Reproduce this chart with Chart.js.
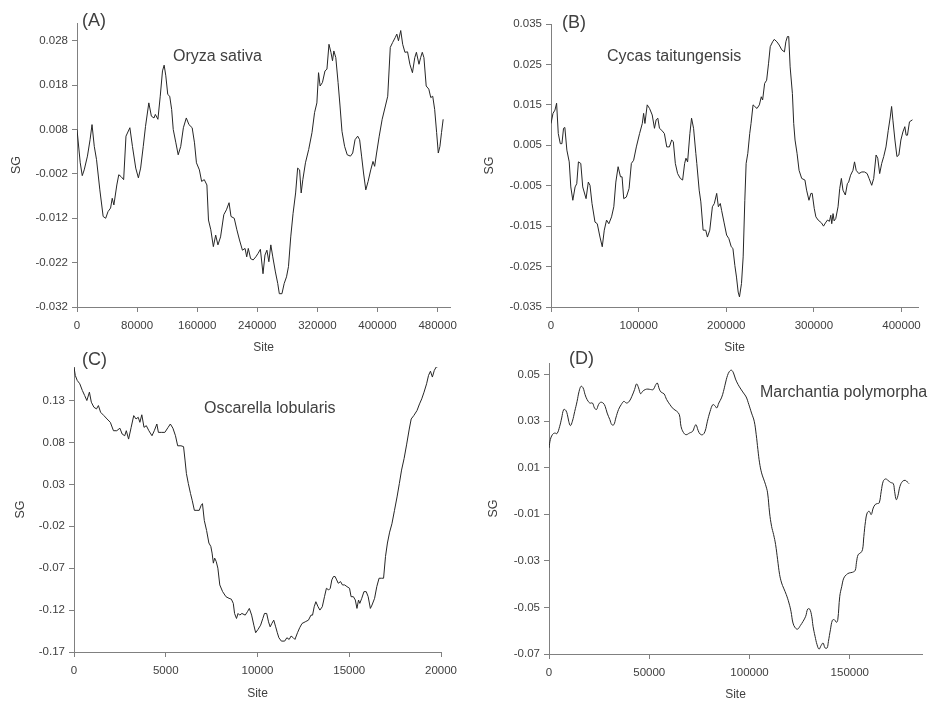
<!DOCTYPE html>
<html>
<head>
<meta charset="utf-8">
<script src="https://cdn.jsdelivr.net/npm/chart.js@4.4.1/dist/chart.umd.min.js"></script>
<style>
  body { margin: 0; background: #fff; width: 928px; height: 702px; position: relative; overflow: hidden; }
  canvas { position: absolute; }
</style>
</head>
<body>
<canvas id="chartA" width="464" height="360" style="left:0;top:0"></canvas>
<canvas id="chartB" width="464" height="360" style="left:464px;top:0"></canvas>
<canvas id="chartC" width="464" height="362" style="left:0;top:340px"></canvas>
<canvas id="chartD" width="464" height="362" style="left:464px;top:340px"></canvas>
<script>
// (A) Oryza sativa
const oryzaSite = [0, 4300, 7000, 9600, 13900, 17400, 20000, 23000, 26000, 30400, 34800, 38200, 41300, 44700, 46900, 49100, 53000, 55600, 58600, 62100, 65200, 70400, 73800, 78200, 81700, 84700, 88200, 91200, 95600, 99000, 102500, 104300, 107700, 110800, 113800, 116000, 118200, 120800, 123400, 126000, 128100, 131600, 134700, 138100, 141600, 145500, 149000, 153300, 156400, 159000, 162900, 165900, 169400, 172900, 175000, 178100, 181500, 184600, 187600, 191100, 195400, 198900, 202400, 205000, 209300, 212800, 216300, 220200, 223700, 225900, 228000, 231100, 234500, 238000, 241100, 244100, 247600, 250200, 252800, 255400, 258000, 260600, 264100, 267200, 269300, 272800, 275800, 278900, 281500, 284500, 287600, 291000, 293700, 296300, 298400, 300600, 304100, 308400, 312800, 316200, 319300, 321500, 323600, 326700, 330100, 332700, 335400, 338000, 340100, 341900, 344500, 347500, 350100, 352700, 356200, 359700, 364000, 367000, 370100, 373600, 376200, 378800, 381400, 384400, 387500, 391000, 394000, 396200, 398800, 402300, 406200, 410500, 413600, 417000, 420100, 423500, 425700, 427900, 430900, 433500, 436500, 440000, 443100, 446500, 449600, 451800, 455200, 457400, 459600, 461800, 464800, 468300, 470900, 473500, 476100, 478700, 480900, 483100, 485200, 487400];
const oryzaSG = [0.008, 0.0005, -0.0024, -0.0011, 0.002, 0.0057, 0.0091, 0.0042, 0.0012, -0.0056, -0.0116, -0.012, -0.0105, -0.0097, -0.0075, -0.009, -0.0045, -0.0022, -0.0026, -0.0033, 0.0065, 0.0084, 0.0042, -0.0007, -0.0029, -0.0007, 0.0042, 0.0087, 0.014, 0.011, 0.0106, 0.0114, 0.0103, 0.0155, 0.0212, 0.0225, 0.0201, 0.0159, 0.0155, 0.0125, 0.008, 0.005, 0.0023, 0.0042, 0.0084, 0.0106, 0.0091, 0.0084, 0.005, 0.0005, -0.0011, -0.0037, -0.0033, -0.0045, -0.0124, -0.0146, -0.0184, -0.0158, -0.018, -0.0162, -0.0112, -0.0101, -0.0085, -0.0116, -0.012, -0.0146, -0.0169, -0.0192, -0.0188, -0.0207, -0.0188, -0.0211, -0.0214, -0.0207, -0.0199, -0.019, -0.0245, -0.0203, -0.0192, -0.0218, -0.018, -0.0207, -0.0241, -0.0267, -0.029, -0.029, -0.0267, -0.0252, -0.0229, -0.0162, -0.0109, -0.0063, -0.0007, -0.0011, -0.0063, -0.0033, 0.0005, 0.0035, 0.0073, 0.0118, 0.014, 0.0208, 0.0178, 0.0186, 0.0212, 0.0216, 0.0272, 0.0254, 0.0235, 0.0257, 0.0242, 0.0186, 0.0133, 0.0076, 0.0042, 0.0023, 0.002, 0.0027, 0.0057, 0.0065, 0.0057, 0.002, -0.0018, -0.0056, -0.0037, -0.0011, 0.0008, -0.0003, 0.0027, 0.0065, 0.0103, 0.0133, 0.0155, 0.0265, 0.0276, 0.0287, 0.0295, 0.028, 0.0303, 0.0272, 0.0254, 0.0255, 0.0227, 0.0208, 0.0242, 0.0254, 0.0227, 0.0242, 0.0254, 0.0242, 0.0178, 0.0171, 0.0152, 0.0155, 0.0125, 0.0073, 0.0027, 0.0042, 0.0073, 0.0103];
const oryzaXTicks = [0, 80000, 160000, 240000, 320000, 400000, 480000];
const oryzaXLabels = ['0', '80000', '160000', '240000', '320000', '400000', '480000'];
const oryzaYTicks = [-0.032, -0.022, -0.012, -0.002, 0.008, 0.018, 0.028];
const oryzaYLabels = ['-0.032', '-0.022', '-0.012', '-0.002', '0.008', '0.018', '0.028'];

// (B) Cycas taitungensis
const cycasSite = [0, 2300, 4500, 6400, 8300, 10600, 12500, 14300, 15800, 18100, 20800, 22600, 24900, 27500, 29400, 31300, 34000, 36200, 40000, 42600, 44500, 46800, 50200, 52800, 55900, 58500, 60800, 63400, 66000, 69100, 71700, 74000, 76600, 79300, 81100, 83000, 86000, 89100, 91700, 94300, 97400, 101100, 104200, 105700, 107200, 109800, 112500, 115500, 118100, 120000, 121900, 123800, 126400, 129400, 132100, 135100, 137700, 139600, 141900, 144500, 147600, 150200, 152500, 154000, 155900, 158500, 160400, 162700, 165300, 166400, 169100, 171000, 173600, 176600, 178500, 181200, 184200, 186400, 189100, 191000, 193200, 194700, 197400, 200400, 203000, 205700, 207600, 209800, 211700, 213600, 215100, 217400, 219300, 221200, 222700, 224600, 226800, 228300, 230600, 232500, 235100, 237800, 240000, 241500, 243800, 246100, 248300, 250200, 252900, 254800, 257800, 260400, 263400, 266400, 268000, 269800, 271300, 272900, 275500, 277000, 278500, 280800, 283100, 286100, 289800, 291700, 294400, 296600, 298100, 300400, 302300, 304900, 308700, 311000, 313200, 315500, 317800, 319300, 320400, 321900, 323100, 325000, 327600, 329500, 331400, 333200, 335900, 338200, 339700, 341900, 344600, 346400, 348300, 351300, 354700, 357800, 360800, 363000, 366000, 368300, 371000, 372900, 375100, 377400, 379700, 382300, 384900, 387200, 388700, 390200, 392500, 394800, 397000, 399300, 401600, 403800, 405300, 406800, 409100, 412500];
const cycasSG = [0.0104, 0.0129, 0.0137, 0.0154, 0.0079, 0.0054, 0.0054, 0.0092, 0.0094, 0.0038, 0.0009, -0.0053, -0.0086, -0.0053, -0.0045, 0.0009, 0.0005, -0.0053, -0.0082, -0.0041, -0.0049, -0.0094, -0.014, -0.0144, -0.0177, -0.0201, -0.016, -0.0135, -0.0144, -0.0127, -0.0102, -0.0041, -0.0003, -0.0028, -0.0028, -0.0082, -0.0078, -0.0057, 0.0005, 0.0013, 0.0046, 0.0079, 0.0104, 0.0129, 0.0104, 0.015, 0.0141, 0.0125, 0.0092, 0.0113, 0.0117, 0.0092, 0.0087, 0.0079, 0.0046, 0.0046, 0.0063, 0.0059, 0.0005, -0.002, -0.0032, -0.0036, 0.0005, 0.0018, 0.0009, 0.0079, 0.0117, 0.0092, 0.003, 0.0005, -0.0061, -0.009, -0.016, -0.016, -0.0177, -0.016, -0.0102, -0.0094, -0.0069, -0.0102, -0.0094, -0.0111, -0.014, -0.0172, -0.0181, -0.0201, -0.0205, -0.0247, -0.0276, -0.0313, -0.0325, -0.0292, -0.0226, -0.0086, 0.0005, 0.003, 0.0079, 0.0104, 0.015, 0.0146, 0.0141, 0.015, 0.017, 0.0162, 0.0203, 0.0211, 0.0253, 0.0294, 0.0306, 0.0312, 0.0306, 0.0298, 0.0286, 0.0281, 0.0306, 0.0319, 0.0319, 0.0244, 0.0178, 0.0104, 0.0063, 0.003, -0.0012, -0.0032, -0.0036, -0.0061, -0.0086, -0.0069, -0.0069, -0.0106, -0.0127, -0.0135, -0.0142, -0.015, -0.0142, -0.0135, -0.0138, -0.0123, -0.0144, -0.0119, -0.0137, -0.0131, -0.0102, -0.0057, -0.0032, -0.0061, -0.0073, -0.0045, -0.0041, -0.0024, -0.0012, 0.0009, -0.0012, -0.002, -0.0016, -0.0016, -0.002, -0.0032, -0.0049, -0.0032, 0.0026, 0.0018, -0.002, 0.0005, 0.0022, 0.0046, 0.0087, 0.012, 0.0146, 0.0112, 0.0063, 0.0022, 0.0026, 0.0063, 0.0083, 0.0096, 0.0075, 0.0075, 0.0108, 0.0113];
const cycasXTicks = [0, 100000, 200000, 300000, 400000];
const cycasXLabels = ['0', '100000', '200000', '300000', '400000'];
const cycasYTicks = [-0.035, -0.025, -0.015, -0.005, 0.005, 0.015, 0.025, 0.035];
const cycasYLabels = ['-0.035', '-0.025', '-0.015', '-0.005', '0.005', '0.015', '0.025', '0.035'];

// (C) Oscarella lobularis
const oscarellaSite = [0, 70, 175, 315, 455, 580, 700, 840, 945, 1085, 1225, 1330, 1450, 1630, 1800, 1980, 2150, 2330, 2500, 2625, 2765, 2850, 2975, 3115, 3255, 3380, 3500, 3590, 3695, 3815, 3940, 4080, 4250, 4375, 4515, 4600, 4780, 4950, 5130, 5250, 5390, 5530, 5650, 5830, 5970, 6050, 6125, 6230, 6350, 6440, 6560, 6700, 6825, 6930, 7000, 7100, 7225, 7350, 7455, 7525, 7595, 7665, 7750, 7840, 7945, 8100, 8280, 8450, 8575, 8680, 8750, 8855, 8940, 9030, 9150, 9330, 9450, 9555, 9680, 9800, 9900, 10030, 10170, 10290, 10380, 10500, 10600, 10690, 10780, 10885, 10990, 11080, 11165, 11300, 11480, 11600, 11725, 11830, 11950, 12040, 12180, 12300, 12425, 12600, 12775, 12915, 13000, 13090, 13180, 13300, 13400, 13530, 13650, 13755, 13880, 13965, 14050, 14140, 14230, 14315, 14400, 14525, 14630, 14750, 14875, 15015, 15100, 15225, 15330, 15420, 15505, 15575, 15680, 15800, 15925, 16030, 16150, 16240, 16380, 16500, 16625, 16765, 16870, 16975, 17080, 17200, 17325, 17465, 17605, 17730, 17850, 17990, 18130, 18270, 18375, 18515, 18690, 18830, 18950, 19075, 19215, 19320, 19425, 19530, 19635, 19740, 19915];
const oscarellaSG = [0.1696, 0.16, 0.154, 0.15, 0.142, 0.136, 0.13, 0.14, 0.128, 0.122, 0.12, 0.124, 0.116, 0.112, 0.108, 0.104, 0.094, 0.094, 0.097, 0.09, 0.088, 0.094, 0.084, 0.098, 0.112, 0.108, 0.11, 0.104, 0.113, 0.098, 0.1, 0.094, 0.088, 0.094, 0.102, 0.092, 0.092, 0.092, 0.098, 0.102, 0.097, 0.088, 0.076, 0.076, 0.075, 0.059, 0.043, 0.031, 0.019, 0.011, -0.001, -0.001, -0.001, 0.005, 0.007, -0.013, -0.025, -0.04, -0.044, -0.052, -0.064, -0.058, -0.062, -0.07, -0.09, -0.098, -0.104, -0.106, -0.107, -0.112, -0.124, -0.13, -0.124, -0.126, -0.124, -0.126, -0.122, -0.118, -0.126, -0.138, -0.147, -0.143, -0.138, -0.13, -0.124, -0.124, -0.134, -0.14, -0.136, -0.132, -0.14, -0.147, -0.153, -0.157, -0.157, -0.153, -0.155, -0.151, -0.153, -0.155, -0.147, -0.141, -0.136, -0.134, -0.132, -0.126, -0.126, -0.116, -0.11, -0.116, -0.12, -0.116, -0.104, -0.094, -0.096, -0.094, -0.084, -0.08, -0.08, -0.084, -0.088, -0.086, -0.09, -0.09, -0.092, -0.094, -0.104, -0.104, -0.108, -0.118, -0.108, -0.112, -0.106, -0.098, -0.098, -0.104, -0.118, -0.114, -0.106, -0.092, -0.082, -0.082, -0.082, -0.056, -0.04, -0.027, -0.017, -0.001, 0.015, 0.031, 0.047, 0.061, 0.078, 0.096, 0.108, 0.112, 0.118, 0.126, 0.132, 0.14, 0.15, 0.16, 0.165, 0.158, 0.166, 0.17, 0.171];
const oscarellaXTicks = [0, 5000, 10000, 15000, 20000];
const oscarellaXLabels = ['0', '5000', '10000', '15000', '20000'];
const oscarellaYTicks = [-0.17, -0.12, -0.07, -0.02, 0.03, 0.08, 0.13];
const oscarellaYLabels = ['-0.17', '-0.12', '-0.07', '-0.02', '0.03', '0.08', '0.13'];

// (D) Marchantia polymorpha
const marchantiaSite = [0, 670, 1670, 2830, 4000, 5330, 6330, 7330, 8330, 9170, 9830, 10670, 11670, 12830, 14000, 15000, 16000, 17000, 18000, 19000, 20330, 21670, 22670, 23670, 24670, 25670, 27000, 28000, 29000, 30330, 31330, 32330, 33330, 34670, 36000, 37330, 38670, 40000, 41330, 42670, 43670, 44670, 45670, 46670, 48000, 49330, 50670, 52000, 53000, 54000, 55000, 56000, 57330, 58670, 60330, 62000, 63670, 65000, 65830, 67000, 68330, 70000, 71670, 72670, 73330, 74330, 75330, 76670, 77830, 79000, 80330, 81670, 82670, 83670, 84670, 86000, 87000, 88000, 89000, 90000, 91000, 92000, 93000, 94330, 95670, 97000, 98330, 99670, 101000, 102330, 103330, 104170, 105000, 106000, 107000, 108000, 109000, 110000, 111000, 112000, 113000, 114000, 115000, 116000, 117000, 118330, 119670, 120670, 121670, 122830, 124000, 125330, 126670, 128000, 129000, 130000, 131000, 131670, 132670, 133670, 134670, 135670, 136670, 137670, 138670, 139330, 140330, 141330, 142330, 143330, 144000, 145000, 146000, 147000, 148330, 149670, 151330, 152670, 153330, 154170, 155330, 156330, 157000, 157830, 158670, 159670, 160670, 161670, 162670, 163670, 164670, 165670, 166670, 167830, 169000, 170330, 171670, 172330, 173170, 174000, 175000, 176330, 177670, 178670, 179500];
const marchantiaSG = [0.0185, 0.0221, 0.0242, 0.0249, 0.0247, 0.0278, 0.0314, 0.035, 0.0347, 0.0328, 0.03, 0.0281, 0.03, 0.0342, 0.0385, 0.0428, 0.045, 0.0443, 0.0414, 0.0393, 0.0378, 0.0378, 0.0357, 0.035, 0.0371, 0.0381, 0.0378, 0.0364, 0.0335, 0.0307, 0.0285, 0.0285, 0.0314, 0.035, 0.0371, 0.0385, 0.0378, 0.0385, 0.0407, 0.0436, 0.046, 0.0443, 0.0418, 0.0428, 0.0436, 0.0438, 0.0436, 0.0436, 0.0453, 0.0464, 0.0438, 0.0424, 0.0418, 0.0393, 0.0371, 0.0353, 0.0343, 0.0328, 0.0278, 0.0252, 0.0242, 0.0249, 0.0257, 0.0278, 0.0285, 0.0261, 0.0245, 0.0242, 0.0257, 0.03, 0.0342, 0.0371, 0.0367, 0.0357, 0.0378, 0.04, 0.0428, 0.0464, 0.0496, 0.0514, 0.0519, 0.0507, 0.0481, 0.0457, 0.0438, 0.0421, 0.0404, 0.0371, 0.0335, 0.03, 0.0242, 0.0178, 0.0121, 0.0078, 0.0052, 0.0027, -0.0008, -0.0094, -0.0152, -0.0187, -0.023, -0.0295, -0.0359, -0.0395, -0.0417, -0.0445, -0.0481, -0.0517, -0.0567, -0.0588, -0.0593, -0.0578, -0.056, -0.0538, -0.0507, -0.0507, -0.0538, -0.0581, -0.0624, -0.066, -0.0679, -0.0664, -0.0653, -0.0674, -0.0674, -0.0646, -0.0596, -0.0555, -0.0553, -0.0564, -0.0553, -0.0452, -0.0409, -0.0374, -0.0359, -0.0352, -0.0349, -0.0341, -0.0306, -0.0273, -0.0266, -0.0252, -0.0195, -0.013, -0.0094, -0.0087, -0.0101, -0.0073, -0.0058, -0.0054, -0.0051, -0.0001, 0.0042, 0.0052, 0.0046, 0.0037, 0.0032, -0.0001, -0.0037, -0.002, 0.002, 0.0042, 0.0046, 0.0039, 0.0032];
const marchantiaXTicks = [0, 50000, 100000, 150000];
const marchantiaXLabels = ['0', '50000', '100000', '150000'];
const marchantiaYTicks = [-0.07, -0.05, -0.03, -0.01, 0.01, 0.03, 0.05];
const marchantiaYLabels = ['-0.07', '-0.05', '-0.03', '-0.01', '0.01', '0.03', '0.05'];

const FONT = '"Liberation Sans", Arial, Helvetica, sans-serif';
const TEXT = '#404040';
const AXIS = '#808080';

Chart.defaults.font.family = FONT;
Chart.defaults.color = TEXT;

// panel letter and species name, drawn on top of each panel
const panelText = {
    id: 'panelText',
    afterDraw(chart, args, opts) {
        const ctx = chart.ctx;
        ctx.save();
        ctx.fillStyle = TEXT;
        ctx.textAlign = 'left';
        ctx.textBaseline = 'middle';
        ctx.font = `18px ${FONT}`;
        ctx.fillText(opts.letter, opts.letterX, opts.letterY);
        ctx.font = `16px ${FONT}`;
        ctx.fillText(opts.name, opts.nameX, opts.nameY);
        ctx.restore();
    }
};

function drawPanel(id, sites, values, p) {
    const ctx = document.getElementById(id).getContext('2d');
    return new Chart(ctx, {
        type: 'line',
        data: {
            datasets: [{
                data: sites.map((s, i) => ({ x: s, y: values[i] })),
                borderColor: '#262626',
                borderWidth: 1,
                pointRadius: 0,
                tension: p.tension || 0,
                fill: false
            }]
        },
        options: {
            responsive: false,
            animation: false,
            events: [],
            layout: { padding: { top: p.top, right: p.right, bottom: 0, left: 0 } },
            plugins: {
                legend: { display: false },
                tooltip: { enabled: false },
                panelText: p.text
            },
            scales: {
                x: {
                    type: 'linear',
                    min: 0,
                    max: p.xMax,
                    afterBuildTicks: scale => { scale.ticks = p.xTicks.map(v => ({ value: v })); },
                    afterFit: scale => { scale.height = p.xHeight; },
                    ticks: {
                        autoSkip: false,
                        maxRotation: 0,
                        padding: 7,
                        font: { size: 11.5 },
                        callback: (v, i) => p.xLabels[i]
                    },
                    grid: { drawOnChartArea: false, drawTicks: true, tickLength: 5, color: AXIS },
                    border: { color: AXIS },
                    title: { display: true, text: 'Site', font: { size: 12 }, padding: { top: 0, bottom: p.siteGap } }
                },
                y: {
                    min: p.yMin,
                    max: p.yMax,
                    afterBuildTicks: scale => { scale.ticks = p.yTicks.map(v => ({ value: v })); },
                    afterFit: scale => { scale.width = p.yWidth; },
                    ticks: {
                        autoSkip: false,
                        padding: 4,
                        font: { size: 11.5 },
                        callback: (v, i) => p.yLabels[i]
                    },
                    grid: { drawOnChartArea: false, drawTicks: true, tickLength: 5, color: AXIS },
                    border: { color: AXIS },
                    title: { display: true, text: 'SG', font: { size: 12.5 }, padding: { top: p.sgGap, bottom: 0 } }
                }
            }
        },
        plugins: [panelText]
    });
}

drawPanel('chartA', oryzaSite, oryzaSG, {
    xMax: 497000, yMin: -0.032, yMax: 0.032,
    xTicks: oryzaXTicks, xLabels: oryzaXLabels, yTicks: oryzaYTicks, yLabels: oryzaYLabels,
    top: 23, right: 6, yWidth: 77, xHeight: 53, siteGap: 5, sgGap: 9,
    text: { letter: '(A)', letterX: 82, letterY: 21, name: 'Oryza sativa', nameX: 173, nameY: 57 }
});

drawPanel('chartB', cycasSite, cycasSG, {
    xMax: 419000, yMin: -0.035, yMax: 0.035,
    xTicks: cycasXTicks, xLabels: cycasXLabels, yTicks: cycasYTicks, yLabels: cycasYLabels,
    top: 24, right: 7, yWidth: 87, xHeight: 53, siteGap: 5, sgGap: 18,
    text: { letter: '(B)', letterX: 98, letterY: 23, name: 'Cycas taitungensis', nameX: 143, nameY: 57 }
});

drawPanel('chartC', oscarellaSite, oscarellaSG, {
    xMax: 20000, yMin: -0.17, yMax: 0.17,
    xTicks: oscarellaXTicks, xLabels: oscarellaXLabels, yTicks: oscarellaYTicks, yLabels: oscarellaYLabels,
    top: 27, right: 9, yWidth: 74, xHeight: 50, siteGap: 1, sgGap: 13,
    text: { letter: '(C)', letterX: 82, letterY: 20, name: 'Oscarella lobularis', nameX: 204, nameY: 69 }
});

drawPanel('chartD', marchantiaSite, marchantiaSG, {
    xMax: 186000, yMin: -0.07, yMax: 0.055, tension: 0.4,
    xTicks: marchantiaXTicks, xLabels: marchantiaXLabels, yTicks: marchantiaYTicks, yLabels: marchantiaYLabels,
    top: 23, right: 6, yWidth: 85, xHeight: 48, siteGap: 0, sgGap: 22,
    text: { letter: '(D)', letterX: 105, letterY: 19, name: 'Marchantia polymorpha', nameX: 296, nameY: 53 }
});
</script>
</body>
</html>
